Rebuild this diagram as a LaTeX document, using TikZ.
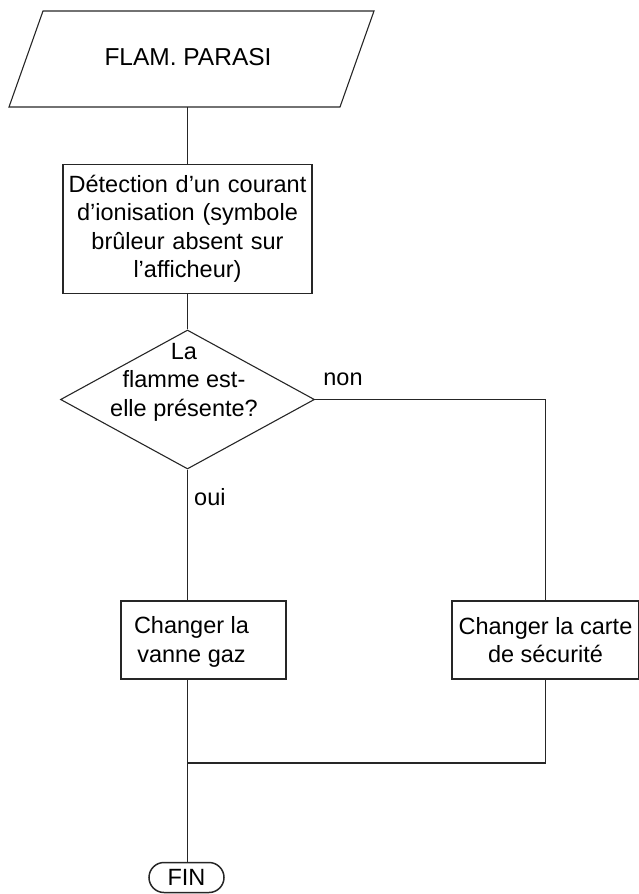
\documentclass[tikz,border=0pt]{standalone}
\usepackage{fontspec}
\setmainfont{Liberation Sans}
\usetikzlibrary{shapes.geometric,shapes.misc}
\begin{document}
\begin{tikzpicture}[x=1pt,y=-1pt,
  every node/.style={font=\fontsize{23.5}{28.5}\selectfont, inner sep=0pt},
  line/.style={draw=black!85, line width=1.1pt},
  procbox/.style={draw=black!85, line width=1.1pt, rectangle, minimum height=78pt},
  txt/.style={align=center},
  lbl/.style={font=\fontsize{23.5}{28}\selectfont}]
\useasboundingbox (0,0) rectangle (638,894);
% input parallelogram
\coordinate (ptl) at (43,11);
\coordinate (ptr) at (374,11);
\coordinate (pbr) at (340,107);
\coordinate (pbl) at (9,107);
\draw[line] (ptl) -- (ptr) -- (pbr) -- (pbl) -- cycle;
\node[txt, font=\fontsize{24.5}{29}\selectfont] (start) at (188,57) {FLAM. PARASI};
\coordinate (pout) at (187.5,107);
% detection box
\node[procbox, txt, minimum width=249pt, minimum height=129pt, text width=245pt] (det) at (187.5,229)
  {Détection d’un courant\\d’ionisation (symbole\\brûleur absent sur\\l’afficheur)};
% decision diamond
\node[draw=black!85, line width=1.1pt, diamond, minimum width=254pt, minimum height=139pt] (dia) at (187.5,399.5) {};
\node[txt] (diatxt) at (184,382) {La\\flamme est-\\elle présente?};
% process boxes
\node[procbox, minimum width=165pt] (vanne) at (203.5,640) {};
\node[txt] (vannetxt) at (191.5,642) {Changer la\\vanne gaz};
\node[procbox, txt, minimum width=187pt] (carte) at (545.5,640) {Changer la carte\\de sécurité};
% end
\node[draw=black!85, line width=1.5pt, rounded rectangle, minimum width=75pt, minimum height=30pt] (fin) at (186.5,877.5) {FIN};
\coordinate (j) at (187.5,763);
% connectors
\draw[line] (pout) -- (det.north);
\draw[line] (det.south) -- (dia.north);
\draw[line] (dia.east) -| (carte.north);
\draw[line] (dia.south) -- (dia.south |- vanne.north);
\draw[line] (dia.south |- vanne.south) -- (j) -- (j |- fin.north);
\draw[line] (carte.south) |- (j);
% labels
\node[lbl] (non) at (343,379) {non};
\node[lbl, anchor=west] (oui) at (194,497) {oui};
\end{tikzpicture}
\end{document}
